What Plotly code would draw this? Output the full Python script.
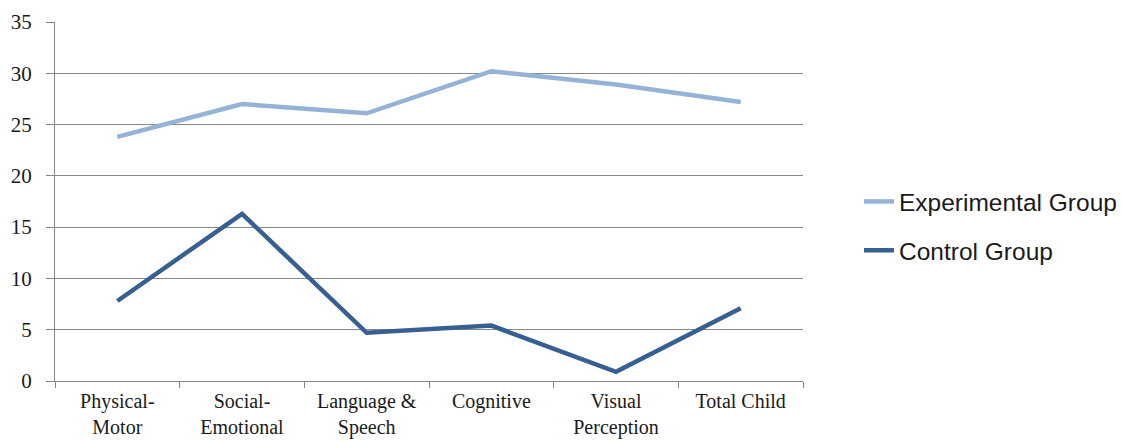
import plotly.graph_objects as go

categories = ["Physical-<br>Motor", "Social-<br>Emotional", "Language &<br>Speech",
              "Cognitive", "Visual<br>Perception", "Total Child"]
experimental = [23.8, 27.0, 26.1, 30.2, 28.9, 27.2]
control = [7.8, 16.3, 4.7, 5.4, 0.9, 7.1]
y_ticks = [0, 5, 10, 15, 20, 25, 30, 35]

fig = go.Figure()
fig.add_trace(go.Scatter(x=categories, y=experimental, mode="lines", name="Experimental Group",
                         line=dict(color="#95B3D7", width=4.5), legendgroup="a"))
fig.add_trace(go.Scatter(x=categories, y=control, mode="lines", name="Control Group",
                         line=dict(color="#376092", width=4.5), legendgroup="b"))

grid = "#878787"
fig.update_layout(
    width=1122, height=441,
    margin=dict(l=55, r=319, t=22, b=60),
    plot_bgcolor="white", paper_bgcolor="white",
    font=dict(family="Liberation Serif", size=20, color="#1a1a1a"),
    legend=dict(xref="container", yref="container", x=0.7656, y=1 - 226 / 441,
                xanchor="left", yanchor="middle",
                font=dict(family="Liberation Sans", size=24.5, color="#1a1a1a"),
                traceorder="grouped", tracegroupgap=14, itemwidth=30),
    showlegend=True,
)
fig.update_xaxes(type="category", tickson="boundaries", ticks="outside", ticklen=6,
                 tickcolor=grid, showline=True, linecolor=grid, linewidth=1,
                 showgrid=False, tickfont=dict(family="Liberation Serif", size=20),
                 ticklabelstandoff=2, range=[-0.5, 5.5], automargin=False)
fig.update_yaxes(range=[0, 35], tickvals=y_ticks, ticks="outside", ticklen=8, tickcolor=grid,
                 showline=True, linecolor=grid, linewidth=1, showgrid=True, gridcolor=grid,
                 gridwidth=1, zeroline=False, tickfont=dict(family="Liberation Serif", size=21),
                 ticklabelstandoff=10, automargin=False)

fig.write_html("out.html", config={"displayModeBar": False},
               post_script="document.body.style.margin='0';document.body.style.overflow='hidden';")
